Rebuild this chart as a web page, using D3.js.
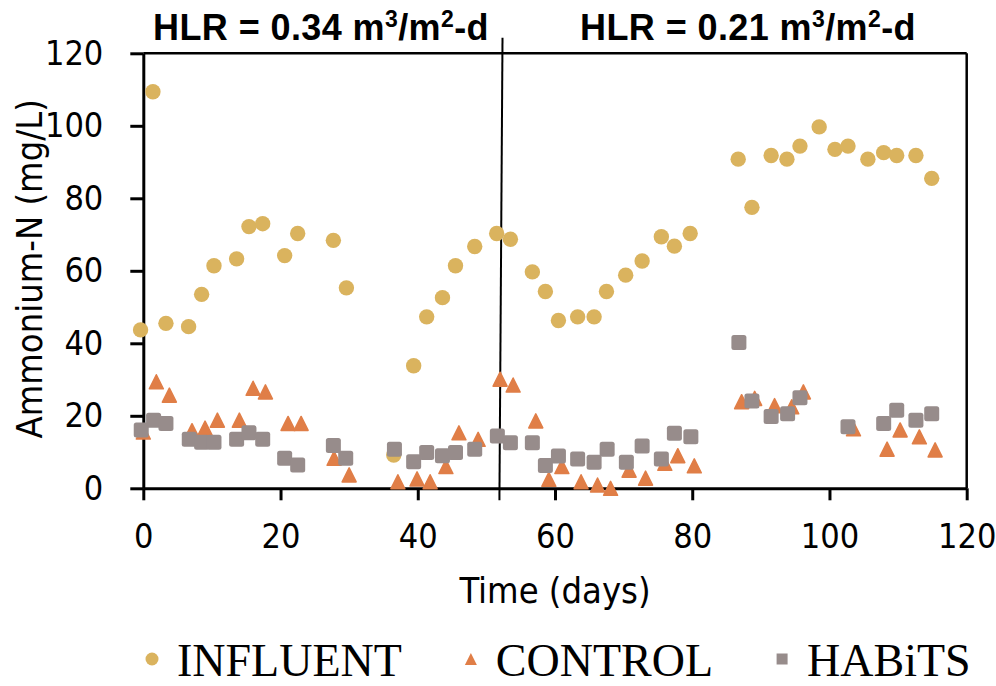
<!DOCTYPE html>
<html>
<head>
<meta charset="utf-8">
<script src="https://cdn.jsdelivr.net/npm/d3@7/dist/d3.min.js"></script>
<style>
    body { margin: 0; background: #fff; }
    .axis text { font-family: 'DejaVu Sans Condensed', 'DejaVu Sans', sans-serif; font-stretch: condensed; font-size: 34px; fill: #000; }
    .axis path, .axis line { stroke: #000; stroke-width: 3; }
    .title { font-family: 'DejaVu Sans Condensed', 'DejaVu Sans', sans-serif; font-stretch: condensed; font-size: 36px; fill: #000; }
    .hlr { font-family: 'Liberation Sans', Arial, sans-serif; font-weight: bold; font-size: 36px; fill: #000; }
    .legend text { font-family: 'Liberation Serif', 'Times New Roman', serif; font-size: 46px; fill: #000; }
</style>
</head>
<body>
<div id="chart"></div>
<script>
// Data
const influentDay = [-0.4, 1.4, 3.3, 6.6, 8.5, 10.3, 13.6, 15.4, 17.4, 20.6, 22.5, 27.7, 29.6, 36.5, 39.4, 41.3, 43.6, 45.5, 48.3, 51.5,
    53.5, 56.7, 58.6, 60.5, 63.3, 65.7, 67.5, 70.3, 72.7, 75.5, 77.4, 79.7, 86.7, 88.7, 91.5, 93.8, 95.7, 98.5, 100.8, 102.7,
    105.6, 107.9, 109.8, 112.6, 114.9];
const influentN = [43.7, 109.4, 45.5, 44.6, 53.5, 61.4, 63.3, 72.2, 73.0, 64.2, 70.3, 68.4, 55.3, 9.2, 33.8, 47.3, 52.6, 61.4, 66.7, 70.3,
    68.7, 59.7, 54.3, 46.3, 47.3, 47.3, 54.3, 58.8, 62.7, 69.4, 66.8, 70.3, 90.8, 77.5, 91.8, 90.8, 94.4, 99.7, 93.5, 94.4,
    90.8, 92.6, 91.8, 91.8, 85.5];

const controlDay = [0.0, 1.9, 3.8, 7.1, 9.0, 10.8, 14.0, 16.0, 17.8, 21.1, 23.0, 27.8, 30.0, 37.1, 39.9, 41.8, 44.1, 46.0, 48.8, 52.0,
    53.9, 57.2, 59.1, 61.0, 63.8, 66.2, 68.1, 70.8, 73.2, 76.0, 77.9, 80.3, 87.2, 89.1, 92.0, 94.5, 96.2, 103.5, 108.4, 110.3,
    113.1, 115.4];
const controlN = [15.5, 29.4, 25.7, 15.9, 16.6, 18.8, 18.8, 27.6, 26.6, 17.9, 17.9, 8.3, 3.7, 1.8, 2.6, 1.8, 6.0, 15.3, 13.5, 30.1,
    28.5, 18.6, 2.5, 6.0, 1.8, 0.9, 0.0, 5.0, 2.8, 6.9, 9.0, 6.2, 23.9, 24.8, 22.8, 22.5, 26.6, 16.4, 10.8, 16.1,
    14.2, 10.6];

const habitsDay = [-0.3, 1.5, 3.3, 6.7, 8.5, 10.3, 13.6, 15.4, 17.4, 20.6, 22.5, 27.7, 29.5, 36.6, 39.4, 41.3, 43.6, 45.5, 48.3, 51.6,
    53.5, 56.7, 58.6, 60.5, 63.3, 65.7, 67.6, 70.4, 72.7, 75.5, 77.4, 79.8, 86.8, 88.7, 91.5, 93.9, 95.7, 102.7, 107.9, 109.8,
    112.6, 114.9];
const habitsN = [16.1, 18.8, 17.9, 13.5, 12.7, 12.7, 13.5, 15.3, 13.5, 8.3, 6.4, 11.8, 8.3, 10.8, 7.3, 9.9, 9.0, 9.9, 10.8, 14.4,
    12.6, 12.6, 6.3, 8.9, 8.1, 7.2, 10.8, 7.2, 11.7, 8.1, 15.2, 14.2, 40.2, 24.1, 19.8, 20.6, 25.0, 17.0, 17.9, 21.5,
    18.8, 20.6];

const xTicks = [0, 20, 40, 60, 80, 100, 120];
const yTicks = [0, 20, 40, 60, 80, 100, 120];
const seriesNames = ['INFLUENT', 'CONTROL', 'HABiTS'];
const periodLabels = [['HLR = 0.34 m', '3', '/m', '2', '-d'], ['HLR = 0.21 m', '3', '/m', '2', '-d']];
const dividerDay = [52.35, 51.9]; // top, bottom (line is slightly tilted)

const colors = { INFLUENT: '#dab35e', CONTROL: '#e07e47', HABiTS: '#978c8b' };

const width = 996;
const height = 686;
const plot = { left: 143.3, right: 966.7, top: 53.3, bottom: 488.3 };

const svg = d3.select('#chart')
    .append('svg')
    .attr('width', width)
    .attr('height', height);

const x = d3.scaleLinear().domain([0, 120]).range([plot.left, plot.right]);
const y = d3.scaleLinear().domain([0, 120]).range([plot.bottom, plot.top]);

// Frame (top + right)
svg.append('line')
    .attr('x1', x(0)).attr('x2', x(120))
    .attr('y1', y(120)).attr('y2', y(120))
    .attr('stroke', '#000').attr('stroke-width', 2.5);
svg.append('line')
    .attr('x1', x(120)).attr('x2', x(120))
    .attr('y1', y(120)).attr('y2', y(0))
    .attr('stroke', '#000').attr('stroke-width', 2.5);

// Axes
svg.append('g')
    .attr('class', 'axis')
    .attr('transform', `translate(${plot.left},0)`)
    .call(d3.axisLeft(y).tickValues(yTicks).tickSize(13).tickSizeOuter(0).tickPadding(27));

svg.append('g')
    .attr('class', 'axis')
    .attr('transform', `translate(0,${plot.bottom})`)
    .call(d3.axisBottom(x).tickValues(xTicks).tickSize(12).tickSizeOuter(0).tickPadding(24));

// Divider between the two loading periods
svg.append('line')
    .attr('x1', x(dividerDay[0])).attr('y1', y(120) - 15.5)
    .attr('x2', x(dividerDay[1])).attr('y2', y(0) + 12)
    .attr('stroke', '#000').attr('stroke-width', 2);

// Period labels
const labelX = [321, 748];
periodLabels.forEach((parts, i) => {
    const t = svg.append('text')
        .attr('class', 'hlr')
        .attr('x', labelX[i])
        .attr('y', 40)
        .attr('text-anchor', 'middle')
        .attr('letter-spacing', 0.4);
    t.append('tspan').text(parts[0]);
    t.append('tspan').attr('dy', -13).attr('font-size', 23).text(parts[1]);
    t.append('tspan').attr('dy', 13).text(parts[2]);
    t.append('tspan').attr('dy', -13).attr('font-size', 23).text(parts[3]);
    t.append('tspan').attr('dy', 13).text(parts[4]);
});

// Axis titles
svg.append('text')
    .attr('class', 'title')
    .attr('x', (plot.left + plot.right) / 2)
    .attr('y', 603)
    .attr('text-anchor', 'middle')
    .text('Time (days)');

svg.append('text')
    .attr('class', 'title')
    .attr('transform', `translate(42,${(plot.top + plot.bottom) / 2 - 2}) rotate(-90)`)
    .attr('text-anchor', 'middle')
    .text('Ammonium-N (mg/L)');

// Marker helpers
function trianglePath(cx, cy, s) {
    return `M${cx},${cy - s / 2}L${cx + s / 2},${cy + s / 2}L${cx - s / 2},${cy + s / 2}Z`;
}

// INFLUENT circles
svg.append('g')
    .selectAll('circle')
    .data(d3.zip(influentDay, influentN))
    .enter()
    .append('circle')
    .attr('cx', d => x(d[0]))
    .attr('cy', d => y(d[1]))
    .attr('r', 7.7)
    .attr('fill', colors.INFLUENT);

// CONTROL triangles
svg.append('g')
    .selectAll('path')
    .data(d3.zip(controlDay, controlN))
    .enter()
    .append('path')
    .attr('d', d => trianglePath(x(d[0]), y(d[1]), 14))
    .attr('fill', colors.CONTROL)
    .attr('stroke', colors.CONTROL)
    .attr('stroke-width', 1.5)
    .attr('stroke-linejoin', 'round');

// HABiTS squares
svg.append('g')
    .selectAll('rect')
    .data(d3.zip(habitsDay, habitsN))
    .enter()
    .append('rect')
    .attr('x', d => x(d[0]) - 7.5)
    .attr('y', d => y(d[1]) - 7.5)
    .attr('width', 15)
    .attr('height', 15)
    .attr('rx', 2.5)
    .attr('fill', colors.HABiTS);

// Legend
const legend = svg.append('g').attr('class', 'legend');
let lx = 152;
const ly = 659;
seriesNames.forEach(name => {
    if (name === 'INFLUENT') {
        legend.append('circle').attr('cx', lx).attr('cy', ly).attr('r', 6.5).attr('fill', colors[name]);
    } else if (name === 'CONTROL') {
        legend.append('path').attr('d', trianglePath(lx, ly, 12)).attr('fill', colors[name]);
    } else {
        legend.append('rect').attr('x', lx - 5.5).attr('y', ly - 5.5).attr('width', 11).attr('height', 11)
            .attr('fill', colors[name]);
    }
    const t = legend.append('text')
        .attr('x', lx + 25)
        .attr('y', 676)
        .text(name);
    lx += 25 + t.node().getComputedTextLength() + 69;
});
</script>
</body>
</html>
